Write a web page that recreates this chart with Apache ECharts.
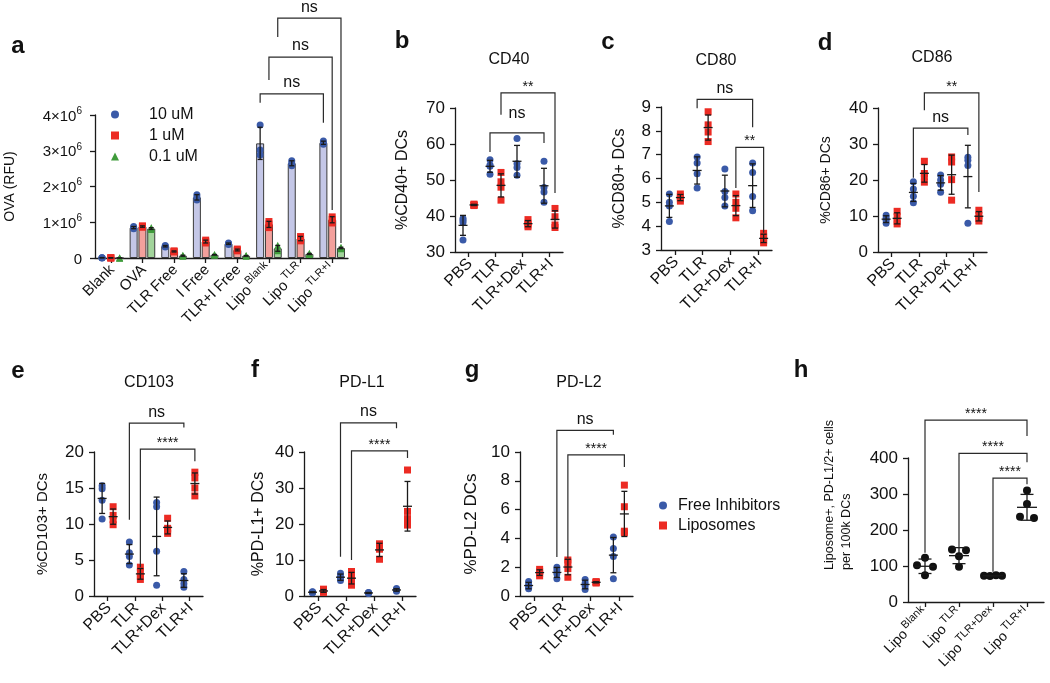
<!DOCTYPE html>
<html><head><meta charset="utf-8">
<script src="https://cdn.jsdelivr.net/npm/echarts@6/dist/echarts.min.js"></script>
<style>html,body{margin:0;padding:0;background:#fff}#c{width:1050px;height:683px}</style>
</head><body><div id="c"></div>
<script>
// ================= DATA =================
// Panel a: OVA uptake (values in 10^6 RFU), three replicates per group
const aCategories = ['Blank','OVA','TLR Free','I Free','TLR+I Free','Lipo^Blank','Lipo^TLR','Lipo^TLR+I'];
const aSeriesNames = ['10 uM','1 uM','0.1 uM'];
const aYTickLabels = ['0','1×10^6','2×10^6','3×10^6','4×10^6'];
const ova10uM = [[0.01,0.0,0.01],[0.88,0.85,0.82],[0.35,0.33,0.31],[1.77,1.70,1.62],[0.42,0.40,0.38],[3.72,3.02,2.88],[2.72,2.65,2.58],[3.27,3.22,3.18]];
const ova1uM  = [[0.0,0.0,0.01],[0.90,0.88,0.86],[0.20,0.18,0.17],[0.50,0.46,0.42],[0.25,0.22,0.20],[1.02,0.95,0.85],[0.60,0.55,0.48],[1.15,1.08,0.98]];
const ova01uM = [[0.0,0.0,0.0],[0.85,0.82,0.80],[0.08,0.06,0.05],[0.10,0.09,0.08],[0.07,0.06,0.05],[0.36,0.25,0.20],[0.13,0.11,0.10],[0.30,0.28,0.26]];

// Panels b-g
const treatments = ['PBS','TLR','TLR+Dex','TLR+I'];
const groupNames = ['Free Inhibitors','Liposomes'];
const cd40Free  = [[39.3,38.8,38.2,33.3],[55.6,54.2,53.8,51.6],[61.5,54.5,53.5,51.3],[55.2,47.9,46.7,43.8]];
const cd40Lipo  = [[43.3,43.1,43.0,42.9],[52.1,49.5,48.0,44.4],[39.0,38.0,37.5,37.0],[42.1,39.8,37.5,36.8]];
const cd80Free  = [[5.35,5.0,4.85,4.2],[6.9,6.65,6.2,5.6],[6.4,5.45,5.2,4.85],[6.65,6.25,5.25,4.65]];
const cd80Lipo  = [[5.35,5.25,5.15,5.05],[8.8,8.25,7.95,7.55],[5.35,5.0,4.75,4.35],[3.7,3.55,3.4,3.3]];
const cd86Free  = [[10.2,9.5,8.8,8.0],[19.5,17.5,15.5,13.7],[21.4,20.0,18.8,16.6],[26.3,25.5,24.0,8.0]];
const cd86Lipo  = [[11.3,9.8,8.5,7.8],[25.2,21.8,21.0,19.4],[26.4,25.0,20.1,14.4],[11.6,10.2,9.3,8.6]];
const cd103Free = [[15.3,14.9,13.3,10.7],[7.5,6.0,5.5,4.3],[13.0,12.4,6.2,1.5],[3.4,2.3,1.7,1.2]];
const cd103Lipo = [[12.4,11.2,10.6,9.9],[4.0,3.3,2.7,2.3],[10.8,9.4,9.2,8.7],[17.2,16.4,15.0,13.9]];
const pdl1Free  = [[1.2,1.1,1.0,0.9],[6.3,5.5,4.8,4.3],[1.0,0.9,0.8,0.7],[2.1,1.8,1.5,1.3]];
const pdl1Lipo  = [[1.9,1.5,1.2,1.0],[6.8,5.5,4.5,3.0],[14.5,13.5,13.0,10.2],[35.0,23.5,21.5,19.7]];
const pdl2Free  = [[1.0,0.8,0.6,0.5],[2.0,1.8,1.55,1.2],[1.15,0.9,0.7,0.45],[4.1,3.3,2.75,1.2]];
const pdl2Lipo  = [[1.85,1.7,1.55,1.4],[2.5,2.35,1.9,1.3],[1.0,0.95,0.95,0.9],[7.7,6.2,4.5,4.4]];

// Panel h
const hCategories = ['Lipo^Blank','Lipo^TLR','Lipo^TLR+Dex','Lipo^TLR+I'];
const hValues = [[123,102,98,74],[146,144,127,98],[73,72,74,73],[310,272,237,233]];
const hAxisName = ['Liposome+, PD-L1/2+ cells','per 100k DCs'];

// Significance annotations: [fromCategory, fromGroup, toCategory, toGroup, bracketTop, leftEnd, rightEnd, label]
const aSig   = [[5,0,7,0,4.59,4.34,3.78,'ns'],[5,1,7,1,5.62,4.98,1.34,'ns'],[5,2,7,2,6.71,6.18,0.42,'ns']];
const cd40Sig = [[1,0,3,0,63.1,57.8,60.3,'ns'],[1,1,3,1,74.2,68.1,46.4,'**']];
const cd80Sig = [[1,0,3,0,9.32,8.95,8.15,'ns'],[2,1,3,1,7.31,5.6,3.72,'**']];
const cd86Sig = [[1,0,3,0,34.4,20.6,32.5,'ns'],[1,1,3,1,44.2,39.4,16.7,'**']];
const cd103Sig = [[1,0,3,0,24.0,10.6,23.4,'ns'],[1,1,3,1,20.4,4.0,18.7,'****']];
const pdl1Sig = [[1,0,3,0,48.1,10.9,46.6,'ns'],[1,1,3,1,40.3,10.0,38.3,'****']];
const pdl2Sig = [[1,0,3,0,11.5,2.7,11.2,'ns'],[1,1,3,1,9.8,2.64,8.96,'****']];
const hSig = [[0,0,3,0,505,137,461,'****'],[1,0,3,0,413,151,388,'****'],[2,0,3,0,344,84,327,'****']];

// ================= STYLE / LAYOUT =================
const FONT = "'Liberation Sans', Arial, Helvetica, sans-serif";
const BLUE = '#3a5aa8', RED = '#ec2b23', GREEN = '#3f9b3b', INK = '#1a1a1a';
const hJitter = [[0,-8,8,0],[-7,7,0,0],[-9,-3,3,9],[0,0,-7,7]];

function mean(a){ return a.reduce((s,v)=>s+v,0)/a.length; }
function sd(a){ if(a.length<2) return 0; const m=mean(a); return Math.sqrt(a.reduce((s,v)=>s+(v-m)*(v-m),0)/(a.length-1)); }
function supFmt(s){ const i=s.indexOf('^'); return i<0 ? '{n|'+s+'}' : '{n|'+s.slice(0,i)+'}{s|'+s.slice(i+1)+'}'; }

const option = {
  animation:false, backgroundColor:'#fff',
  textStyle:{fontFamily:FONT, color:'#111'},
  grid:[], xAxis:[], yAxis:[], series:[], legend:[], graphic:[]
};

function errRender(dx, capW, meanW){
  return function(params, api){
    const c = api.value(0), m = api.value(1), s = api.value(2);
    const pm = api.coord([c,m]), pt = api.coord([c,m+s]), pb = api.coord([c,m-s]);
    const x = pm[0]+dx;
    const st = {stroke:INK, lineWidth:1.3};
    const ch = [
      {type:'line', shape:{x1:x,y1:pt[1],x2:x,y2:pb[1]}, style:st},
      {type:'line', shape:{x1:x-capW/2,y1:pt[1],x2:x+capW/2,y2:pt[1]}, style:st},
      {type:'line', shape:{x1:x-capW/2,y1:pb[1],x2:x+capW/2,y2:pb[1]}, style:st}
    ];
    if (meanW>0) ch.push({type:'line', shape:{x1:x-meanW/2,y1:pm[1],x2:x+meanW/2,y2:pm[1]}, style:st});
    return {type:'group', children:ch};
  };
}

function addPanel(p){
  const gi = option.grid.length;
  option.grid.push({left:p.box[0], top:p.box[1], width:p.box[2], height:p.box[3], containLabel:false, outerBoundsMode:'none'});
  option.xAxis.push({type:'category', gridIndex:gi, data:p.cats, boundaryGap:true,
    axisLine:{show:true, onZero:false, lineStyle:{color:INK,width:1.3}},
    axisTick:{show:true, alignWithLabel:true, length:5, lineStyle:{color:INK,width:1.3}},
    axisLabel:{interval:0, rotate:45, margin:8, color:'#111', fontFamily:FONT, formatter:supFmt,
      rich:{n:{fontSize:p.labelSize, fontFamily:FONT, color:'#111', lineHeight:p.labelSize+4, verticalAlign:'bottom'},
            s:{fontSize:p.supSize||10, fontFamily:FONT, color:'#111', lineHeight:p.supSize||10, verticalAlign:'top', padding:[0,0,0,2]}}},
    splitLine:{show:false}});
  option.yAxis.push({type:'value', gridIndex:gi, min:p.y[0], max:p.y[1], interval:p.y[2],
    name:p.name||'', nameLocation:'middle', nameGap:p.nameGap, nameRotate:90, nameMoveOverlap:false,
    nameTextStyle:{fontSize:p.nameSize, color:'#111', fontFamily:FONT, lineHeight:p.nameSize+2, align:'center'},
    axisLine:{show:true, lineStyle:{color:INK,width:1.3}},
    axisTick:{show:true, length:5, lineStyle:{color:INK,width:1.3}},
    axisLabel:{margin:p.tickMargin||10, color:'#111', fontSize:p.tickSize, fontFamily:FONT, formatter:p.yFmt, rich:p.yRich},
    splitLine:{show:false}});
  p.groups.forEach((g)=>{
    if (g.barColor){
      option.series.push({type:'bar', name:g.name+' bar', xAxisIndex:gi, yAxisIndex:gi, barWidth:8, barGap:'10%',
        data:g.values.map(v=>mean(v)), itemStyle:{color:g.barColor, borderColor:'#3a3a3a', borderWidth:1}, z:1, silent:true});
    }
    const pts = [];
    g.values.forEach((vals,ci)=>vals.forEach((v,k)=>{
      const j = g.jitter ? g.jitter[ci][k] : 0;
      pts.push({value:[ci,v], symbolOffset:[g.offset+j,0]});
    }));
    option.series.push({type:'scatter', name:g.name, xAxisIndex:gi, yAxisIndex:gi, symbol:g.symbol, symbolSize:g.size,
      itemStyle:{color:g.color, opacity:1}, data:pts, z:3, silent:true});
    option.series.push({type:'custom', name:g.name+' err', xAxisIndex:gi, yAxisIndex:gi, clip:false, silent:true, z:4,
      data:g.values.map((v,ci)=>[ci, mean(v), sd(v)]), encode:{x:0,y:1},
      renderItem:errRender(g.offset, p.capW||6, p.meanW||0)});
  });
  const offs = p.groups.map(g=>g.offset);
  option.series.push({type:'custom', name:'sig'+gi, xAxisIndex:gi, yAxisIndex:gi, clip:false, silent:true, z:5,
    data:p.sig.map(b=>[b[0], b[4]]), encode:{x:0,y:1},
    renderItem:function(params, api){
      const b = p.sig[params.dataIndex];
      const xa = api.coord([b[0], b[4]])[0] + offs[b[1]];
      const xb = api.coord([b[2], b[4]])[0] + offs[b[3]];
      const yt = api.coord([b[0], b[4]])[1];
      const y1 = api.coord([b[0], b[5]])[1];
      const y2 = api.coord([b[2], b[6]])[1];
      const isNs = b[7]==='ns';
      const lift = (p.sigLift && p.sigLift[params.dataIndex]) || 0;
      return {type:'group', children:[
        {type:'polyline', shape:{points:[[xa,y1],[xa,yt],[xb,yt],[xb,y2]]}, style:{stroke:'#2a2a2a', lineWidth:1.2, fill:null}},
        {type:'text', style:{text:b[7], x:(xa+xb)/2, y:yt-(isNs?3:-1)-lift, textAlign:'center', textVerticalAlign:'bottom', align:'center', verticalAlign:'bottom',
          font:(isNs?'16px ':'14px ')+FONT, fill:'#111'}}
      ]};
    }});
}

// Panel a
addPanel({box:[95,115,253,143], cats:aCategories, y:[0,4,1], name:'OVA (RFU)', nameGap:77, nameSize:14, tickSize:15, tickMargin:13, labelSize:15, supSize:11,
  yFmt:(v)=>supFmt(aYTickLabels[Math.round(v)]),
  yRich:{n:{fontSize:15, fontFamily:FONT, color:'#111', lineHeight:18, verticalAlign:'bottom'}, s:{fontSize:10, fontFamily:FONT, color:'#111', lineHeight:10, verticalAlign:'top'}},
  capW:5, meanW:0,
  groups:[
    {name:aSeriesNames[0], values:ova10uM, symbol:'circle', size:7, color:BLUE, offset:-8.8, barColor:'#c4c7e7'},
    {name:aSeriesNames[1], values:ova1uM, symbol:'rect', size:7, color:RED, offset:0, barColor:'#f3a09c'},
    {name:aSeriesNames[2], values:ova01uM, symbol:'triangle', size:7, color:GREEN, offset:8.8, barColor:'#a2d49b'}
  ], sig:aSig});

const bgPanels = [
  {box:[455,108,108,144], y:[30,70,10], name:'%CD40+ DCs', nameGap:43, nameSize:16, free:cd40Free, lipo:cd40Lipo, sig:cd40Sig, sigLift:[8,0]},
  {box:[661,107,111,143], y:[3,9,1], name:'%CD80+ DCs', nameGap:32, nameSize:16, free:cd80Free, lipo:cd80Lipo, sig:cd80Sig},
  {box:[878,108,109,144], y:[0,40,10], name:'%CD86+ DCs', nameGap:44, nameSize:14, free:cd86Free, lipo:cd86Lipo, sig:cd86Sig},
  {box:[94,452,109,144], y:[0,20,5], name:'%CD103+ DCs', nameGap:43, nameSize:15, free:cd103Free, lipo:cd103Lipo, sig:cd103Sig},
  {box:[304,452,112,144], y:[0,40,10], name:'%PD-L1+ DCs', nameGap:36, nameSize:16, free:pdl1Free, lipo:pdl1Lipo, sig:pdl1Sig},
  {box:[520,452,113,144], y:[0,10,2], name:'%PD-L2 DCs', nameGap:39, nameSize:17, free:pdl2Free, lipo:pdl2Lipo, sig:pdl2Sig}
];
bgPanels.forEach(p=>addPanel({box:p.box, cats:treatments, y:p.y, name:p.name, nameGap:p.nameGap, nameSize:p.nameSize, tickSize:17, labelSize:16,
  capW:6, meanW:9, sig:p.sig, sigLift:p.sigLift,
  groups:[
    {name:groupNames[0], values:p.free, symbol:'circle', size:7, color:BLUE, offset:-5.5},
    {name:groupNames[1], values:p.lipo, symbol:'rect', size:7, color:RED, offset:5.5}
  ]}));

// Panel h
addPanel({box:[908,458,136,144], cats:hCategories, y:[0,400,100], name:'', nameGap:50, nameSize:12, tickSize:17, labelSize:14, supSize:11,
  capW:13, meanW:20, sig:hSig,
  groups:[{name:'Liposome+ cells', values:hValues, symbol:'circle', size:8, color:'#111', offset:0, jitter:hJitter}]});

option.legend.push({data:aSeriesNames.map(n=>({name:n})), orient:'vertical', left:106, top:101, itemWidth:8, itemHeight:8, itemGap:4,
  selectedMode:false, textStyle:{fontSize:16, color:'#111', fontFamily:FONT, padding:[0,0,0,25], lineHeight:17}});
option.legend.push({data:groupNames.map(n=>({name:n})), orient:'vertical', left:654, top:492, itemWidth:8, itemHeight:8, itemGap:3,
  selectedMode:false, textStyle:{fontSize:16, color:'#111', fontFamily:FONT, padding:[0,0,0,6], lineHeight:17}});

const letters = [['a',18,46],['b',402,41],['c',608,42],['d',825,43],['e',18,371],['f',255,370],['g',472,370],['h',801,370]];
const titles = [['CD40',509,60],['CD80',716,61],['CD86',932,58],['CD103',149,383],['PD-L1',362,383],['PD-L2',579,383]];
letters.forEach(l=>option.graphic.push({type:'text', x:l[1], y:l[2], style:{text:l[0], textAlign:'center', textVerticalAlign:'middle', align:'center', verticalAlign:'middle', font:'bold 24px '+FONT, fill:'#111'}}));
titles.forEach(t=>option.graphic.push({type:'text', x:t[1], y:t[2], style:{text:t[0], textAlign:'center', textVerticalAlign:'middle', align:'center', verticalAlign:'middle', font:'16px '+FONT, fill:'#111'}}));
// rotated two-line axis title of panel h (lines start at the same point, reading upward)
option.graphic.push({type:'text', x:838, y:570, rotation:Math.PI/2,
  style:{text:hAxisName.join('\n'), textAlign:'left', textVerticalAlign:'middle', align:'left', verticalAlign:'middle', font:'12.5px '+FONT, lineHeight:17, fill:'#111'}});

const chart = echarts.init(document.getElementById('c'), null, {renderer:'canvas'});
chart.setOption(option);
</script></body></html>
